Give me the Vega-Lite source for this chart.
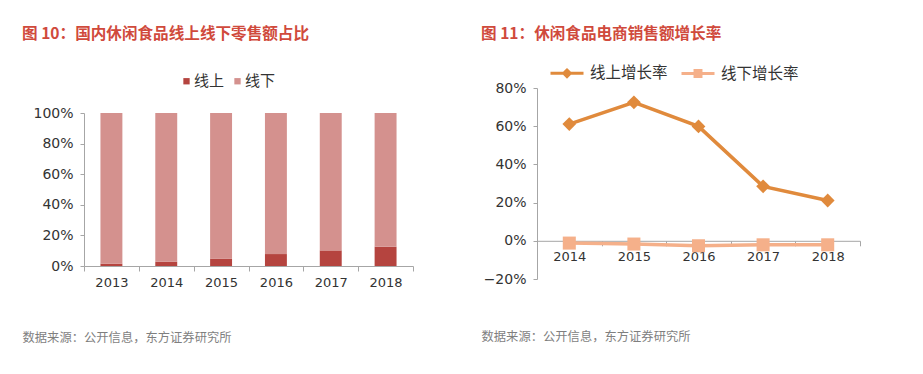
{
  "$schema": "https://vega.github.io/schema/vega-lite/v6.json",
  "padding": {"left": 22, "top": 27, "right": 10, "bottom": 10},
  "background": "white",
  "spacing": 67,
  "config": {
    "view": {"stroke": null},
    "font": "Noto Sans CJK SC",
    "axis": {"labelFont": "DejaVu Sans", "labelColor": "#333333", "domainColor": "#a6a6a6", "tickColor": "#a6a6a6", "grid": false, "labelOverlap": false}
  },
  "resolve": {
    "scale": {"color": "independent", "stroke": "independent", "shape": "independent", "x": "independent", "y": "independent"},
    "legend": {"color": "independent", "stroke": "independent", "shape": "independent"}
  },
  "hconcat": [
    {
      "width": 329,
      "height": 178,
      "title": {"text": "图 10：国内休闲食品线上线下零售额占比", "anchor": "start", "frame": "group", "dx": -62, "fontSize": 15.6, "fontWeight": "bold", "color": "#d04a3c", "font": "Noto Sans CJK SC", "offset": 30.5},
      "data": {"values": [
        {"year": "2013", "type": "线上", "share": 0.015},
        {"year": "2013", "type": "线下", "share": 0.985},
        {"year": "2014", "type": "线上", "share": 0.028},
        {"year": "2014", "type": "线下", "share": 0.972},
        {"year": "2015", "type": "线上", "share": 0.048},
        {"year": "2015", "type": "线下", "share": 0.952},
        {"year": "2016", "type": "线上", "share": 0.078},
        {"year": "2016", "type": "线下", "share": 0.922},
        {"year": "2017", "type": "线上", "share": 0.102},
        {"year": "2017", "type": "线下", "share": 0.898},
        {"year": "2018", "type": "线上", "share": 0.126},
        {"year": "2018", "type": "线下", "share": 0.874}
      ]},
      "mark": {"type": "bar", "width": {"band": 0.4}},
      "encoding": {
        "x": {"field": "year", "type": "ordinal", "scale": {"paddingInner": 0, "paddingOuter": 0},
          "axis": {"labelAngle": 0, "tickBand": "extent", "tickSize": 5, "labelPadding": 5, "labelFontSize": 13,
            "title": "数据来源：公开信息，东方证券研究所", "titleX": -62, "titleY": 65, "titleAlign": "left", "titleBaseline": "top",
            "titleFontSize": 12.3, "titleFontWeight": "normal", "titleColor": "#7f7f7f", "titleFont": "Noto Sans CJK SC"}},
        "y": {"field": "share", "type": "quantitative", "stack": "zero", "scale": {"domain": [0, 1], "nice": false, "range": [178, 25]},
          "axis": {"format": ".0%", "values": [0, 0.2, 0.4, 0.6, 0.8, 1], "tickSize": 4, "labelPadding": 7, "labelFontSize": 14, "title": null}},
        "color": {"field": "type", "type": "nominal", "scale": {"domain": ["线上", "线下"], "range": ["#b5443f", "#d4918e"]},
          "legend": {"orient": "none", "legendX": 95, "legendY": -14.5, "direction": "horizontal", "title": null, "symbolType": "square", "symbolSize": 40, "labelFontSize": 15, "labelOffset": 0, "columnPadding": 5, "labelFont": "Noto Sans CJK SC", "labelColor": "#333333"}},
        "order": {"field": "type", "sort": "ascending"}
      }
    },
    {
      "width": 323,
      "height": 191,
      "title": {"text": "图 11：休闲食品电商销售额增长率", "anchor": "start", "frame": "group", "dx": -56, "fontSize": 15.6, "fontWeight": "bold", "color": "#d04a3c", "font": "Noto Sans CJK SC", "offset": 12},
      "data": {"values": [
        {"year": "2014", "series": "线上增长率", "rate": 0.611},
        {"year": "2015", "series": "线上增长率", "rate": 0.725},
        {"year": "2016", "series": "线上增长率", "rate": 0.599},
        {"year": "2017", "series": "线上增长率", "rate": 0.285},
        {"year": "2018", "series": "线上增长率", "rate": 0.211},
        {"year": "2014", "series": "线下增长率", "rate": -0.012},
        {"year": "2015", "series": "线下增长率", "rate": -0.017},
        {"year": "2016", "series": "线下增长率", "rate": -0.026},
        {"year": "2017", "series": "线下增长率", "rate": -0.021},
        {"year": "2018", "series": "线下增长率", "rate": -0.021}
      ]},
      "encoding": {
        "x": {"field": "year", "type": "ordinal", "scale": {"paddingInner": 0, "paddingOuter": 0},
          "axis": {"labelAngle": 0, "offset": -38.2, "tickBand": "extent", "tickSize": 5, "labelPadding": 5, "labelFontSize": 13,
            "title": "数据来源：公开信息，东方证券研究所", "titleX": -56, "titleY": 90, "titleAlign": "left", "titleBaseline": "top",
            "titleFontSize": 12.3, "titleFontWeight": "normal", "titleColor": "#7f7f7f", "titleFont": "Noto Sans CJK SC"}},
        "y": {"field": "rate", "type": "quantitative", "scale": {"domain": [-0.2, 0.8], "nice": false},
          "axis": {"format": ".0%", "values": [-0.2, 0, 0.2, 0.4, 0.6, 0.8], "tickSize": 4, "labelPadding": 7, "labelFontSize": 14, "title": null}},
        "color": {"field": "series", "type": "nominal", "scale": {"domain": ["线上增长率", "线下增长率"], "range": ["#e08a3c", "#f5b08a"]},
          "legend": {"orient": "none", "legendX": 12, "legendY": -33, "direction": "horizontal", "title": null, "symbolSize": 1089, "symbolStrokeWidth": 3, "labelFontSize": 15.5, "labelOffset": 5, "columnPadding": 7, "labelFont": "Noto Sans CJK SC", "labelColor": "#333333"}}
      },
      "layer": [
        {"transform": [{"filter": "false"}],
          "mark": {"type": "point", "filled": true, "opacity": 1, "strokeWidth": 3},
          "encoding": {
            "stroke": {"field": "series", "type": "nominal", "scale": {"domain": ["线上增长率", "线下增长率"], "range": ["#e08a3c", "#f5b08a"]},
              "legend": {"orient": "none", "legendX": 12, "legendY": -33, "direction": "horizontal", "title": null, "symbolSize": 1089, "symbolStrokeWidth": 3, "labelFontSize": 15.5, "labelOffset": 5, "columnPadding": 7, "labelFont": "Noto Sans CJK SC", "labelColor": "#333333"}},
            "shape": {"field": "series", "type": "nominal", "scale": {"domain": ["线上增长率", "线下增长率"], "range": ["M-1,0H1M0,-0.2L0.2,0L0,0.2L-0.2,0Z", "M-1,0H1M-0.18,-0.18H0.18V0.18H-0.18Z"]},
              "legend": {"orient": "none", "legendX": 12, "legendY": -33, "direction": "horizontal", "title": null, "symbolSize": 1089, "symbolStrokeWidth": 3, "labelFontSize": 15.5, "labelOffset": 5, "columnPadding": 7, "labelFont": "Noto Sans CJK SC", "labelColor": "#333333"}}
          }
        },
        {"mark": {"type": "line", "strokeWidth": 3.5}},
        {"transform": [{"filter": "datum.series === '线上增长率'"}],
          "mark": {"type": "point", "shape": "diamond", "filled": true, "opacity": 1, "size": 190}},
        {"transform": [{"filter": "datum.series === '线下增长率'"}],
          "mark": {"type": "point", "shape": "square", "filled": true, "opacity": 1, "size": 170}}
      ]
    }
  ]
}
